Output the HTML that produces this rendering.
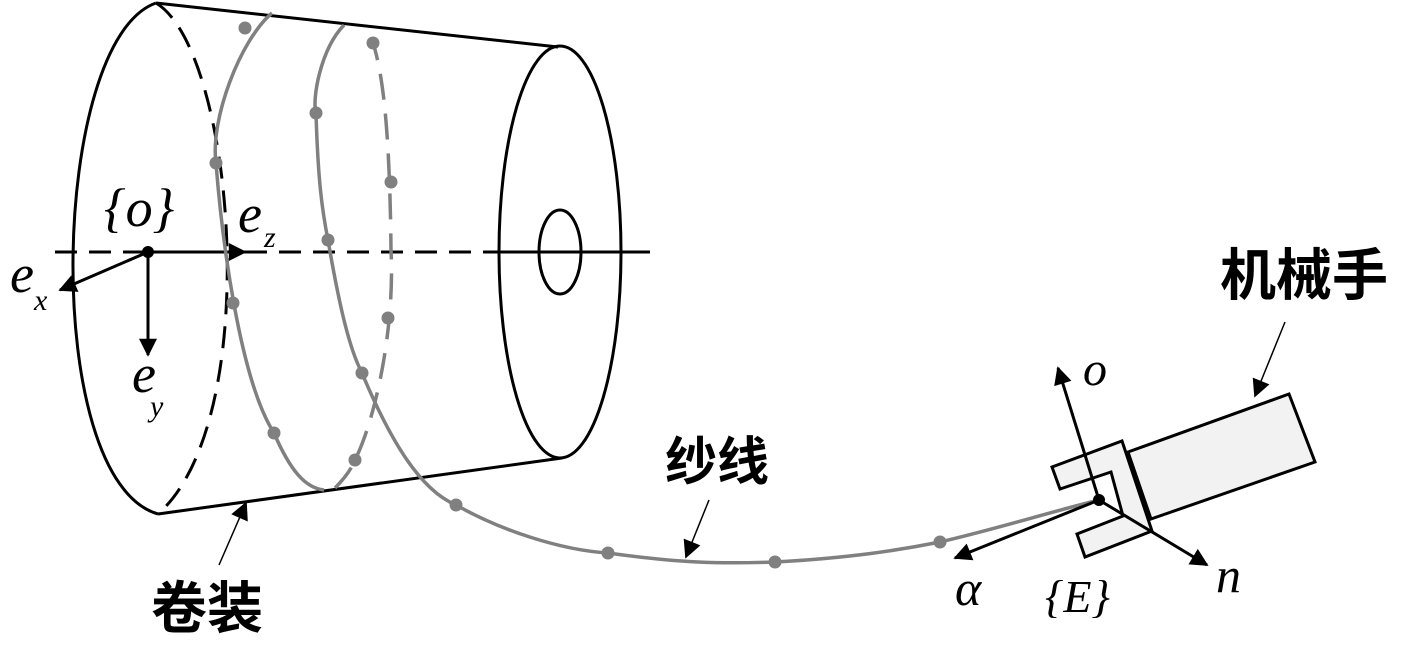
<!DOCTYPE html>
<html><head><meta charset="utf-8"><style>
html,body{margin:0;padding:0;background:#fff;}
svg{display:block;}
.cn{font-family:"Liberation Sans","Noto Sans CJK SC",sans-serif;font-weight:bold;}
.it{font-family:"Liberation Serif","DejaVu Serif",serif;font-style:italic;}
</style></head><body>
<svg width="1417" height="665" viewBox="0 0 1417 665" xmlns="http://www.w3.org/2000/svg">
<defs>
<marker id="ab" viewBox="0 0 10 10" refX="9" refY="5" markerWidth="24" markerHeight="18" markerUnits="userSpaceOnUse" orient="auto"><path d="M0,0 L10,5 L0,10 z" fill="#000"/></marker>
</defs>
<g fill="none" stroke="#000" stroke-width="3">
<line x1="156" y1="3" x2="558" y2="47"/>
<line x1="158" y1="514" x2="562" y2="458"/>
<path d="M156,3 C50,40 40,480 158,514"/>
<path d="M156,3 C235,50 265,420 158,514" stroke-dasharray="22,12"/>
<ellipse cx="560" cy="252" rx="61" ry="206"/>
<ellipse cx="560" cy="252" rx="21" ry="42"/>
<line x1="55" y1="252" x2="148" y2="252" stroke-dasharray="22,12"/>
<line x1="148" y1="252" x2="245" y2="252" marker-end="url(#ab)"/>
<line x1="245" y1="252" x2="498" y2="252" stroke-dasharray="22,12"/>
<line x1="498" y1="252" x2="650" y2="252"/>
<line x1="148" y1="252" x2="60" y2="290" marker-end="url(#ab)"/>
<line x1="148" y1="252" x2="148" y2="355" marker-end="url(#ab)"/>
</g>
<circle cx="148" cy="252" r="6" fill="#000"/>
<g fill="none" stroke="#808080" stroke-width="3.5">
<path d="M272,13 C240,40 210,120 216,163 C222,240 240,380 274,433 C290,470 305,488 324,490"/>
<path d="M335,488 C345,478 352,468 355,460 C375,420 395,330 391,250 C390,150 385,80 373,43" stroke-dasharray="26,14"/>
<path d="M344,25 C320,50 312,100 316,113 C318,180 322,210 328,240 C340,310 350,350 362,373 C390,440 420,490 456,505 C500,530 560,550 608,553 C680,563 720,564 775,562 C850,558 900,550 940,542 C1000,528 1050,512 1099,500"/>
</g>
<g fill="#808080">
<circle cx="245" cy="28" r="6.5"/><circle cx="216" cy="163" r="6.5"/><circle cx="233" cy="303" r="6.5"/><circle cx="274" cy="433" r="6.5"/>
<circle cx="355" cy="460" r="6.5"/><circle cx="388" cy="318" r="6.5"/><circle cx="391" cy="182" r="6.5"/><circle cx="373" cy="43" r="6.5"/>
<circle cx="316" cy="113" r="6.5"/><circle cx="328" cy="240" r="6.5"/><circle cx="362" cy="373" r="6.5"/><circle cx="456" cy="505" r="6.5"/>
<circle cx="608" cy="553" r="6.5"/><circle cx="775" cy="562" r="6.5"/><circle cx="940" cy="542" r="6.5"/>
</g>
<g fill="#f2f2f2" stroke="#000" stroke-width="3" stroke-linejoin="miter">
<polygon points="1128,452 1289,394 1315,462 1151,519"/>
<polygon points="1052,467 1122,441 1152,531 1085,557 1077,534 1123,516 1111,472 1060,489"/>
</g>
<g stroke="#000" stroke-width="3" fill="none">
<line x1="1099" y1="500" x2="1058" y2="368" marker-end="url(#ab)"/>
<line x1="1099" y1="500" x2="955" y2="558" marker-end="url(#ab)"/>
<line x1="1099" y1="500" x2="1207" y2="565" marker-end="url(#ab)"/>
</g>
<circle cx="1099" cy="500" r="6" fill="#000"/>
<g stroke="#000" stroke-width="1.5">
<line x1="1285" y1="322" x2="1255" y2="396" marker-end="url(#ab)"/>
<line x1="709" y1="500" x2="686" y2="557" marker-end="url(#ab)"/>
<line x1="219" y1="565" x2="246" y2="503" marker-end="url(#ab)"/>
</g>
<text class="it" x="104" y="226" font-size="54">{o}</text>
<text class="it" x="238" y="232" font-size="54">e</text><text class="it" x="264" y="247" font-size="30">z</text>
<text class="it" x="10" y="292" font-size="54">e</text><text class="it" x="34" y="310" font-size="30">x</text>
<text class="it" x="132" y="392" font-size="54">e</text><text class="it" x="150" y="416" font-size="30">y</text>
<text class="it" x="1083" y="385" font-size="48">o</text>
<text class="it" x="955" y="605" font-size="50">α</text>
<text class="it" x="1045" y="612" font-size="46">{E}</text>
<text class="it" x="1216" y="592" font-size="50">n</text>
<text class="cn" x="1220" y="295" font-size="56">机械手</text>
<text class="cn" x="665" y="480" font-size="52">纱线</text>
<text class="cn" x="151" y="628" font-size="56">卷装</text>
</svg>
</body></html>
